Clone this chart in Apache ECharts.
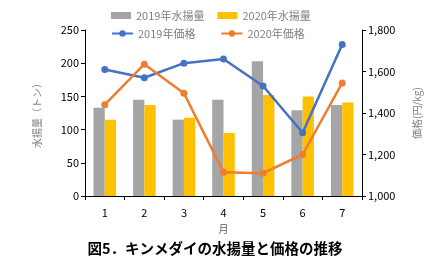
<!DOCTYPE html>
<html><head><meta charset="utf-8">
<script src="https://cdn.jsdelivr.net/npm/echarts@6/dist/echarts.min.js"></script>
<style>html,body{margin:0;padding:0;background:#fff}#c{width:430px;height:262px}</style>
</head><body><div id="c"></div>
<script>
const months = ['1','2','3','4','5','6','7'];
const landing2019 = [133, 145, 115, 145, 203, 129, 137];
const landing2020 = [115, 137, 118, 95, 152, 150, 141];
const price2019 = [1610, 1570, 1640, 1660, 1530, 1305, 1730];
const price2020 = [1440, 1635, 1495, 1115, 1110, 1200, 1545];
const names = ['2019年水揚量', '2020年水揚量', '2019年価格', '2020年価格'];

const font = "'Noto Sans CJK JP', 'Noto Sans', sans-serif";
const chart = echarts.init(document.getElementById('c'), null, {renderer: 'canvas'});
chart.setOption({
  animation: false,
  textStyle: {fontFamily: font},
  title: {
    text: '図5．キンメダイの水揚量と価格の推移',
    left: 'center', top: 236,
    textStyle: {fontSize: 14.5, fontWeight: 'bold', color: '#000', fontFamily: font}
  },
  legend: [
    {data: [names[0], names[1]], left: 106, top: 5, itemWidth: 20, itemHeight: 7, itemGap: 13,
     icon: 'rect', textStyle: {fontSize: 11, color: '#808080'}},
    {data: [names[2], names[3]], left: 106, top: 23, itemWidth: 21, itemHeight: 8, itemGap: 25,
     textStyle: {fontSize: 11, color: '#808080'}}
  ],
  grid: {left: 85, right: 61, top: 30, bottom: 66},
  xAxis: {
    type: 'category', data: months,
    name: '月', nameLocation: 'middle', nameGap: 28,
    nameTextStyle: {fontSize: 10, color: '#595959'},
    axisLine: {lineStyle: {color: '#000'}},
    axisTick: {show: true, inside: false, length: 4, lineStyle: {color: '#000'}},
    axisLabel: {fontSize: 11, color: '#000', margin: 11}
  },
  yAxis: [
    {type: 'value', min: 0, max: 250, interval: 50,
     name: '水揚量（トン）', nameLocation: 'middle', nameGap: 43, nameRotate: 90,
     nameTextStyle: {fontSize: 10, color: '#808080'},
     axisLine: {show: true, lineStyle: {color: '#000'}},
     axisTick: {show: true, length: 4, lineStyle: {color: '#000'}},
     splitLine: {show: false},
     axisLabel: {fontSize: 11, color: '#000', margin: 6}},
    {type: 'value', min: 1000, max: 1800, interval: 200,
     name: '価格(円/kg)', nameLocation: 'middle', nameGap: 50, nameRotate: 90,
     nameTextStyle: {fontSize: 10, color: '#808080'},
     axisLine: {show: true, lineStyle: {color: '#000'}},
     axisTick: {show: true, length: 4, lineStyle: {color: '#000'}},
     splitLine: {show: false},
     axisLabel: {fontSize: 11, color: '#000', margin: 6,
       formatter: v => v.toLocaleString('en-US')}}
  ],
  series: [
    {name: names[0], type: 'bar', data: landing2019, barGap: '0%', barCategoryGap: '43%',
     itemStyle: {color: '#a5a5a5'}},
    {name: names[1], type: 'bar', data: landing2020, itemStyle: {color: '#ffc000'}},
    {name: names[2], type: 'line', yAxisIndex: 1, data: price2019, symbol: 'circle', symbolSize: 7,
     itemStyle: {color: '#4472c4'}, lineStyle: {width: 2.5, color: '#4472c4'}},
    {name: names[3], type: 'line', yAxisIndex: 1, data: price2020, symbol: 'circle', symbolSize: 7,
     itemStyle: {color: '#ed7d31'}, lineStyle: {width: 2.5, color: '#ed7d31'}}
  ]
});
</script></body></html>
